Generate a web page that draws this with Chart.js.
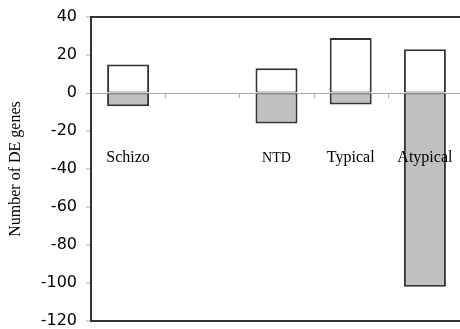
<!DOCTYPE html>
<html>
<head>
<meta charset="utf-8">
<script src="https://cdn.jsdelivr.net/npm/chart.js@4/dist/chart.umd.min.js"></script>
<style>
  html, body { margin: 0; padding: 0; overflow: hidden; background: #fff; }
  #wrap { width: 462px; height: 329px; position: relative; }
</style>
</head>
<body>
<div id="wrap"><canvas id="c"></canvas></div>
<script>
// ---- data ----
const categories = ['Schizo', '', 'NTD', 'Typical', 'Atypical'];
const upValues   = [15, 0, 13, 29, 23];
const downValues = [-7, 0, -16, -6, -102];
const yTicks     = [40, 20, 0, -20, -40, -60, -80, -100, -120];
const yTitle     = 'Number of DE genes';

// ---- styles ----
const labelFontSizes = [16, 16, 14, 16, 16];
const labelAtValue = -36.5;
const axisDark = '#333333';
const zeroGray = '#aaaaaa';

const catLabelPlugin = {
  id: 'catLabels',
  afterDatasetsDraw(chart) {
    const ctx = chart.ctx;
    const xs = chart.scales.x, ys = chart.scales.y;
    ctx.save();
    // small tick marks on the zero line between categories
    const y0 = ys.getPixelForValue(0);
    ctx.strokeStyle = zeroGray;
    ctx.lineWidth = 1;
    for (let i = 1; i < categories.length; i++) {
      const xb = Math.round((xs.getPixelForTick(i - 1) + xs.getPixelForTick(i)) / 2) + 0.5;
      ctx.beginPath();
      ctx.moveTo(xb, y0);
      ctx.lineTo(xb, y0 + 5);
      ctx.stroke();
    }
    // category labels inside the plot
    ctx.fillStyle = '#000';
    ctx.textAlign = 'center';
    ctx.textBaseline = 'alphabetic';
    const yl = ys.getPixelForValue(labelAtValue);
    categories.forEach((c, i) => {
      if (!c) return;
      ctx.font = labelFontSizes[i] + 'px "Liberation Serif", "Times New Roman", serif';
      ctx.fillText(c, xs.getPixelForValue(i), yl);
    });
    ctx.restore();
  }
};

new Chart(document.getElementById('c'), {
  type: 'bar',
  data: {
    labels: categories,
    datasets: [
      {
        data: upValues,
        backgroundColor: '#ffffff',
        borderColor: axisDark,
        borderWidth: { top: 2, left: 2, right: 2, bottom: 1 },
        borderSkipped: false,
        inflateAmount: 0,
        stack: 's'
      },
      {
        data: downValues,
        backgroundColor: '#c0c0c0',
        borderColor: axisDark,
        borderWidth: { top: 1, left: 2, right: 2, bottom: 2 },
        borderSkipped: false,
        inflateAmount: 0,
        stack: 's'
      }
    ]
  },
  options: {
    responsive: true,
    maintainAspectRatio: false,
    animation: false,
    devicePixelRatio: 1,
    layout: { padding: { top: 17, bottom: 8, left: 0, right: 0 } },
    plugins: { legend: { display: false }, tooltip: { enabled: false } },
    datasets: { bar: { categoryPercentage: 1, barPercentage: 0.566 } },
    scales: {
      x: {
        stacked: true,
        display: false,
        offset: true
      },
      y: {
        stacked: true,
        min: -120,
        max: 40,
        afterBuildTicks(scale) {
          scale.ticks = yTicks.map(v => ({ value: v }));
        },
        afterFit(scale) {
          scale.width = 91;
          scale.paddingTop = 0;
          scale.paddingBottom = 0;
        },
        ticks: {
          color: '#000',
          padding: 9,
          font: { family: '"DejaVu Sans", sans-serif', size: 16 },
          callback: v => String(v)
        },
        grid: {
          drawTicks: true,
          tickLength: 5,
          tickColor: zeroGray,
          tickWidth: 1,
          color: ctx => {
            const v = ctx.tick && ctx.tick.value;
            if (v === 40 || v === -120) return axisDark;
            if (v === 0) return zeroGray;
            return 'rgba(0,0,0,0)';
          },
          lineWidth: ctx => {
            const v = ctx.tick && ctx.tick.value;
            if (v === 40 || v === -120) return 2;
            if (v === 0) return 1;
            return 0;
          }
        },
        border: { display: true, color: axisDark, width: 2 },
        title: {
          display: true,
          text: yTitle,
          color: '#000',
          font: { family: '"Liberation Serif", "Times New Roman", serif', size: 16 },
          padding: { top: 6, bottom: 0 }
        }
      }
    }
  },
  plugins: [catLabelPlugin]
});
</script>
</body>
</html>
